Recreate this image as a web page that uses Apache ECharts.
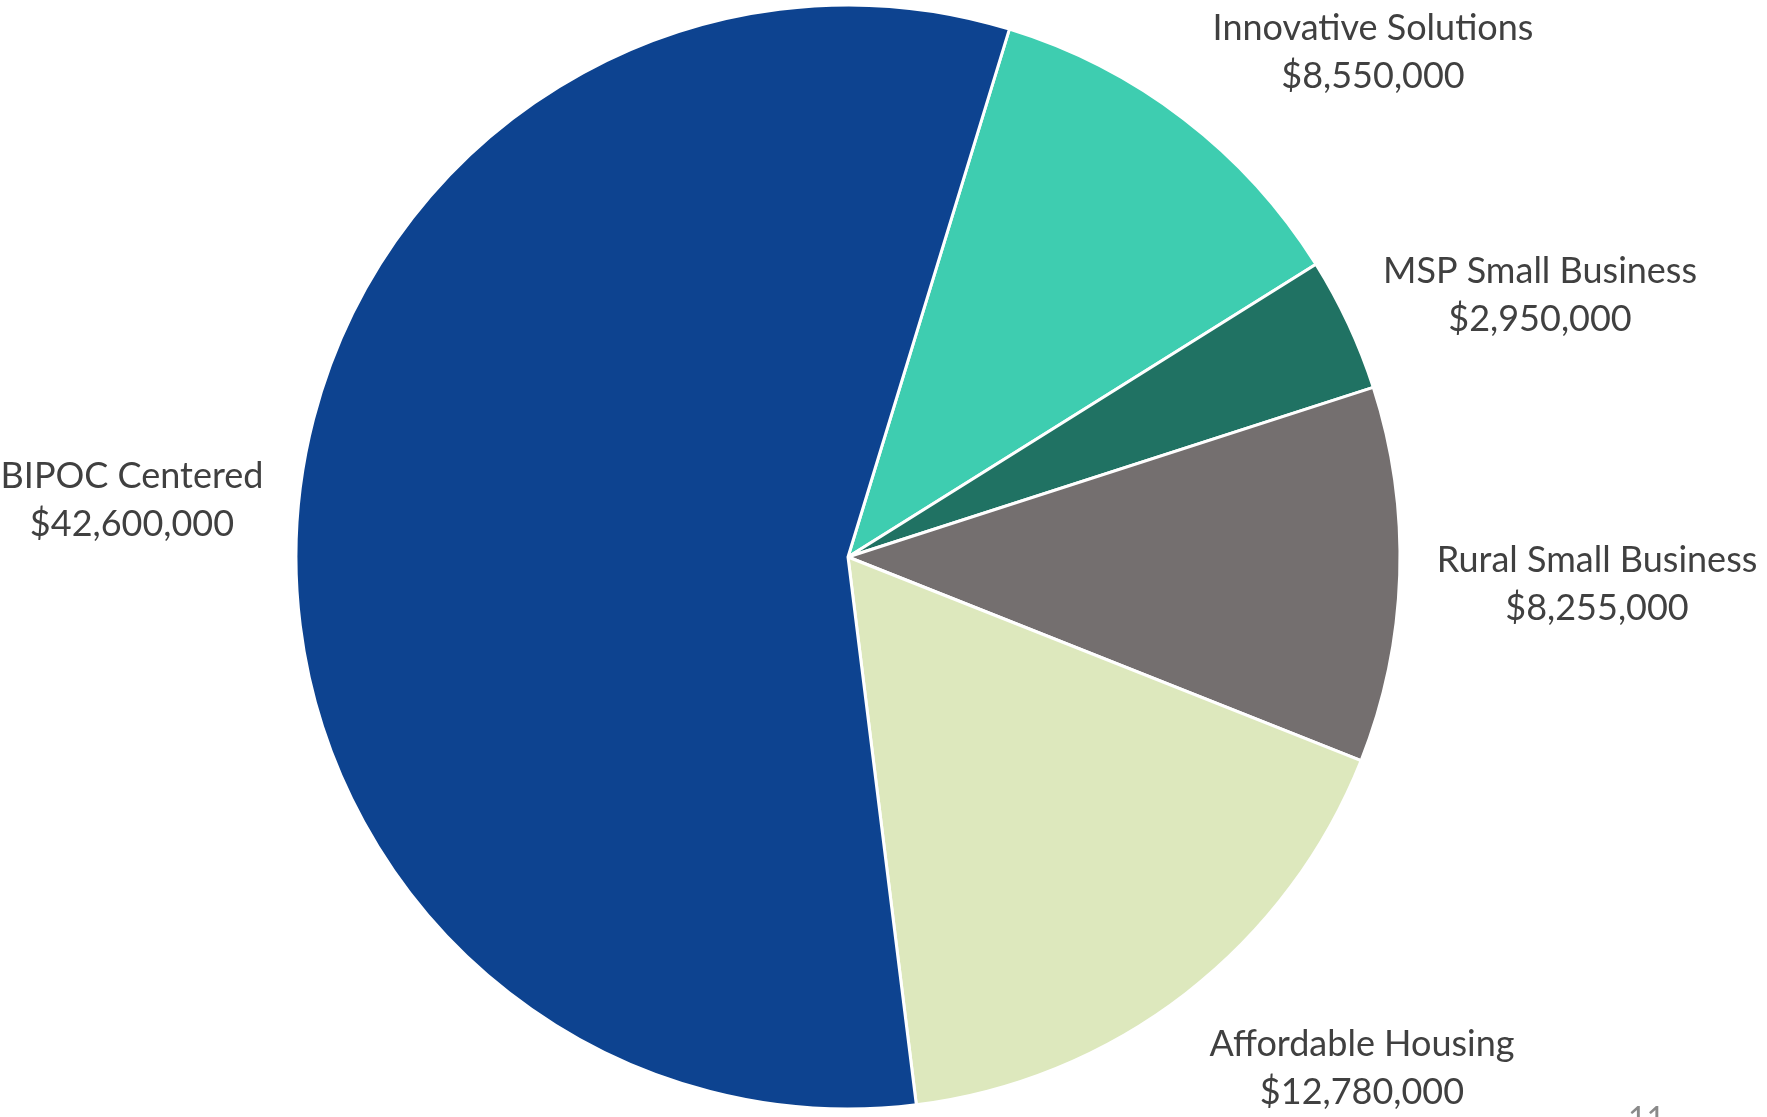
<!DOCTYPE html>
<html>
<head>
<meta charset="utf-8">
<script src="https://cdn.jsdelivr.net/npm/echarts@6/dist/echarts.min.js"></script>
<style>
html,body{margin:0;padding:0;background:#fff;}
#chart{width:1767px;height:1117px;}
</style>
</head>
<body>
<div id="chart"></div>
<script>
const categories = ['Innovative Solutions', 'MSP Small Business', 'Rural Small Business', 'Affordable Housing', 'BIPOC Centered'];
const values = [8550000, 2950000, 8255000, 12780000, 42600000];
const colors = ['#3ECDB0', '#207263', '#746F6F', '#DDE8BD', '#0D4390'];
const labelSpots = [[1373, 52], [1540, 295], [1597, 584], [1362, 1068], [132, 500]];

const fmt = v => '$' + v.toLocaleString('en-US');

const chart = echarts.init(document.getElementById('chart'));
chart.setOption({
  animation: false,
  backgroundColor: '#ffffff',
  graphic: [{
    type: 'text', left: 1628, top: 1104,
    style: { text: '11', fill: '#8a8a8a', font: '32px Lato' }
  }],
  series: [{
    type: 'pie',
    center: [848, 557],
    radius: 552,
    startAngle: 73,
    clockwise: true,
    data: categories.map((c, i) => ({ name: c, value: values[i], itemStyle: { color: colors[i] } })),
    itemStyle: { borderColor: '#ffffff', borderWidth: 3 },
    label: {
      show: true,
      position: 'outside',
      formatter: p => p.name + '\n' + fmt(p.value),
      fontFamily: 'Lato',
      fontSize: 36,
      lineHeight: 48,
      color: '#404040',
      align: 'center',
      overflow: 'none'
    },
    labelLine: { show: false },
    labelLayout: p => ({
      x: labelSpots[p.dataIndex][0],
      y: labelSpots[p.dataIndex][1],
      align: 'center',
      verticalAlign: 'middle'
    }),
    emphasis: { disabled: true }
  }]
});
</script>
</body>
</html>
